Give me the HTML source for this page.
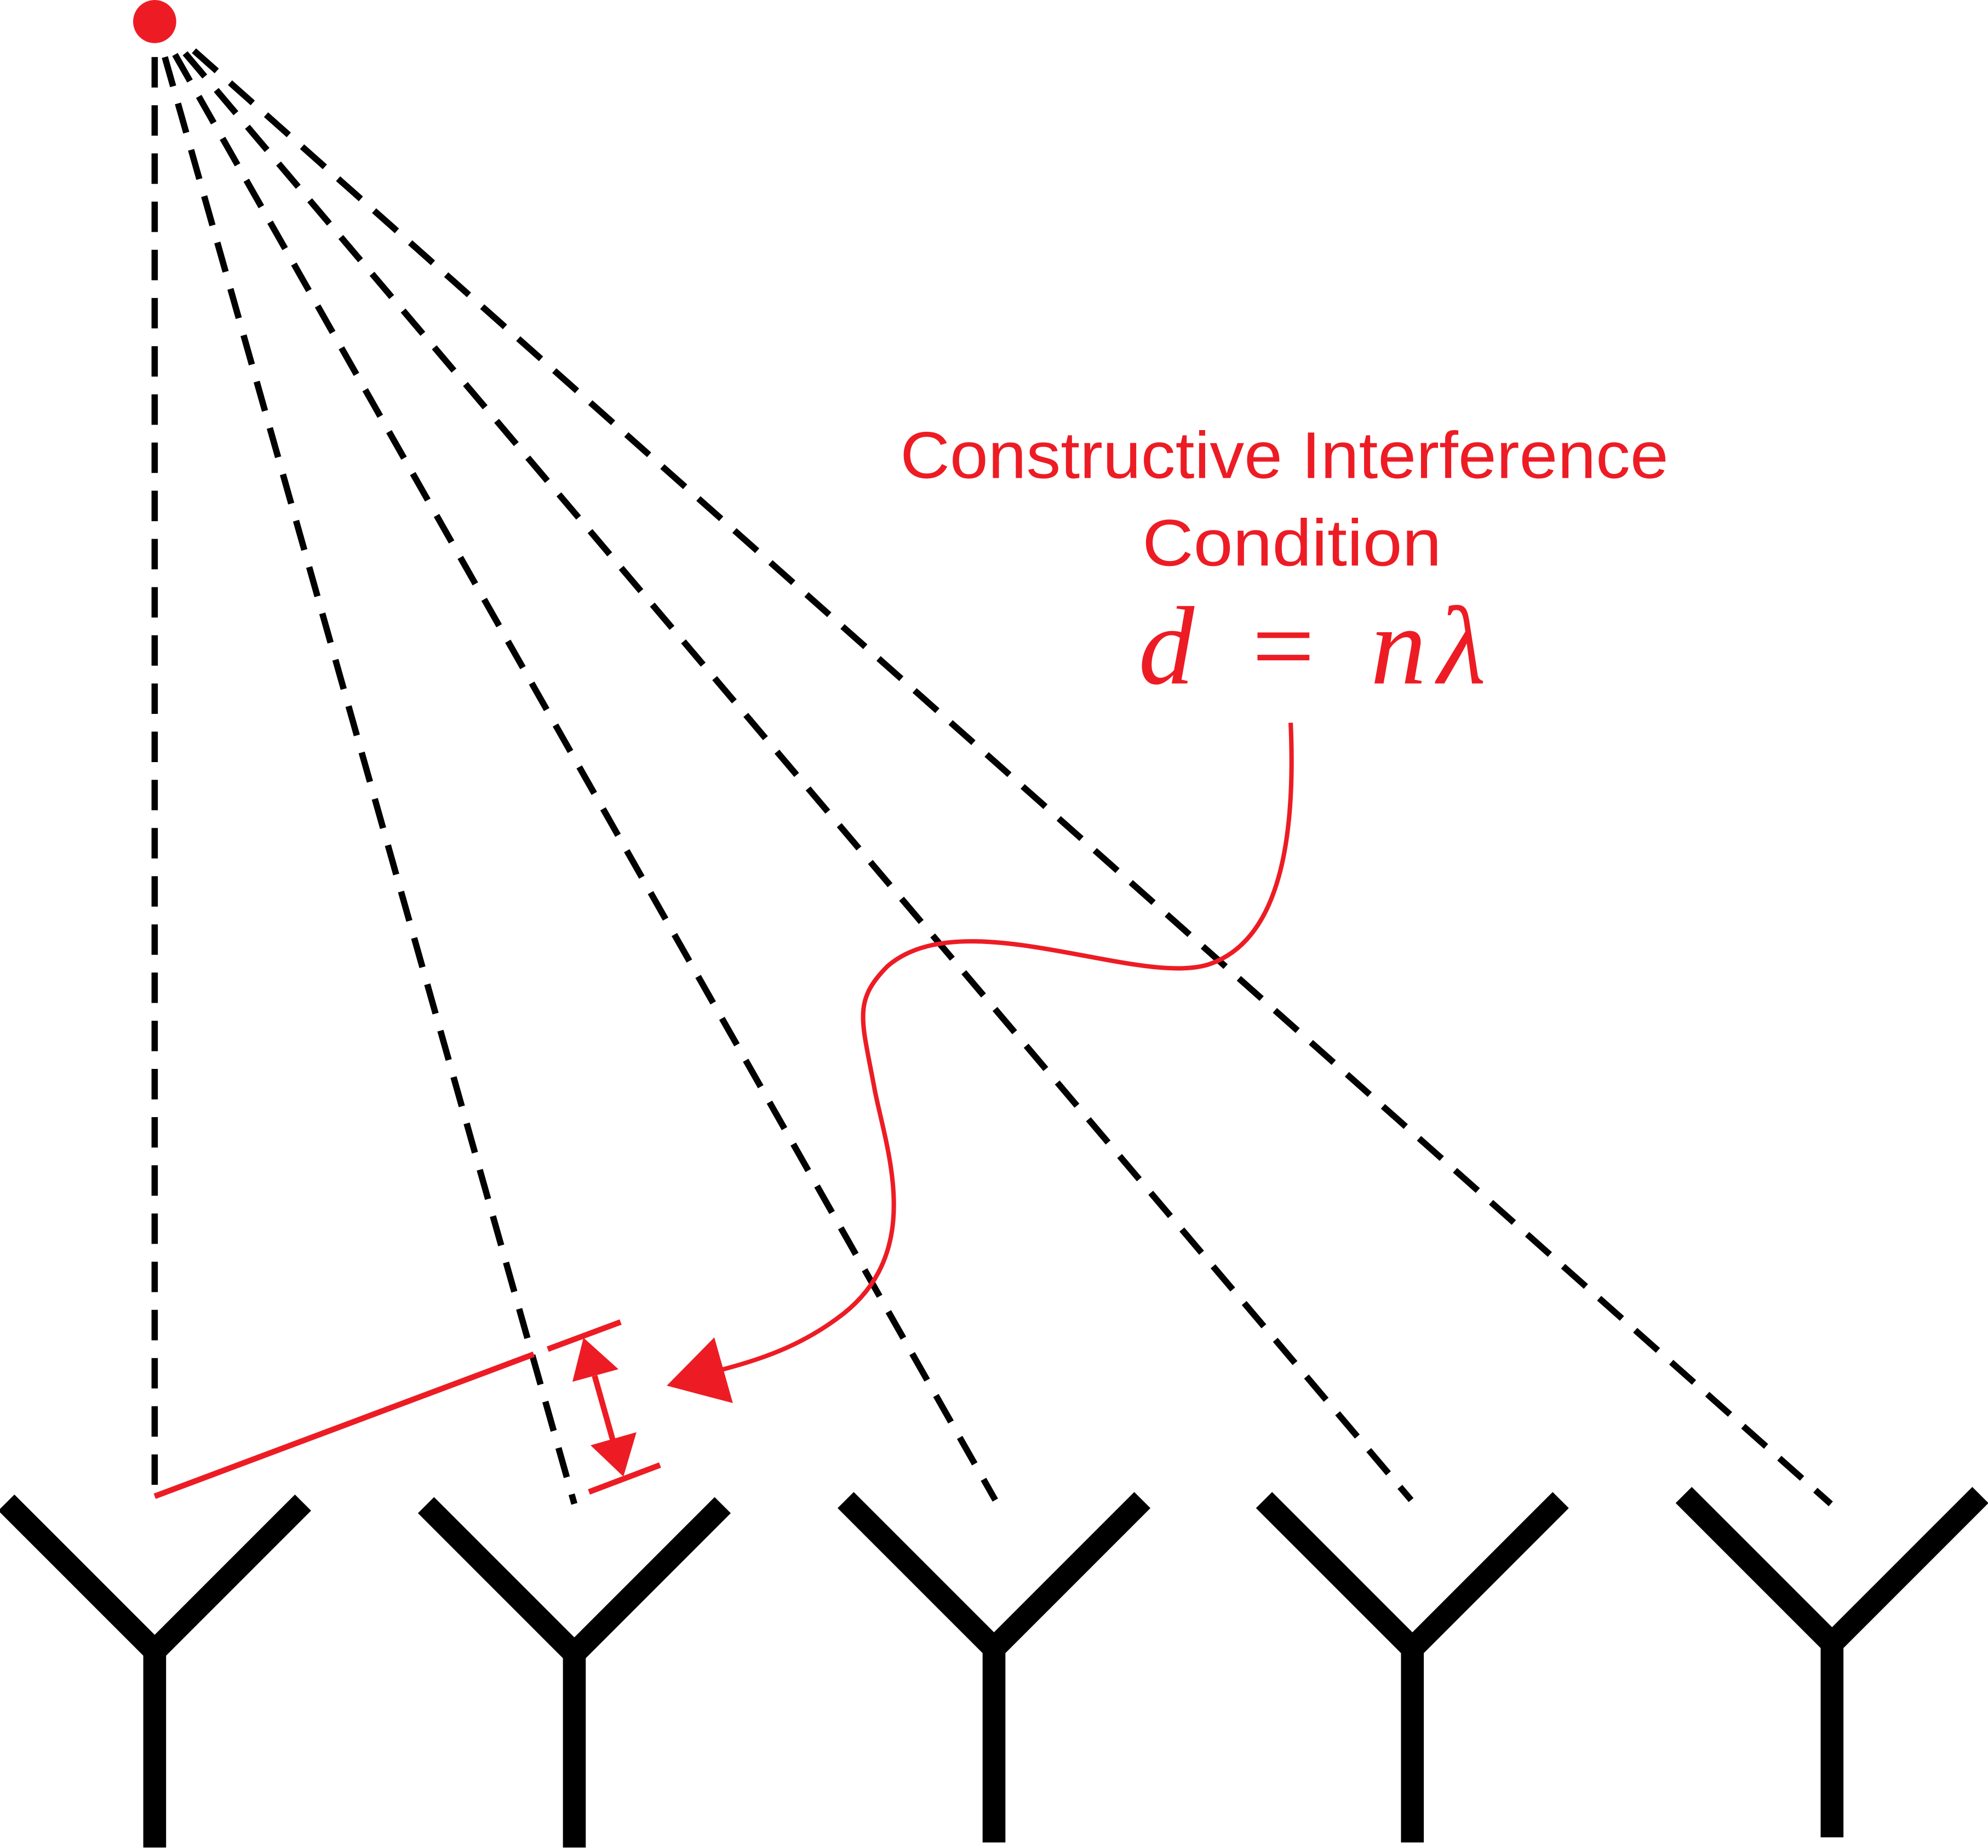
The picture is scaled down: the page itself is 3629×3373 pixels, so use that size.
<!DOCTYPE html>
<html><head><meta charset="utf-8"><style>html,body{margin:0;padding:0;background:#fff}svg{display:block}</style></head>
<body>
<svg width="3629" height="3373" viewBox="0 0 1568 1457.4" xmlns="http://www.w3.org/2000/svg">
<rect width="1568" height="1458" fill="#fff"/>
<g stroke="#000" stroke-width="5" stroke-dasharray="24 14" fill="none">
<line x1="122" y1="45" x2="122" y2="1182"/>
<line x1="130" y1="45" x2="453" y2="1186"/>
<line x1="138" y1="43" x2="785" y2="1183"/>
<line x1="146" y1="42" x2="1113" y2="1183"/>
<line x1="153" y1="40" x2="1444" y2="1186"/>
</g>
<circle cx="122" cy="17" r="17" fill="#ed1c24"/>
<g stroke="#000" stroke-width="18" fill="none">
<path d="M5 1185 L122 1302 L239 1185 M122 1300 V1457"/>
<path d="M336 1187 L453 1304 L570 1187 M453 1302 V1457"/>
<path d="M667 1183 L784 1300 L901 1183 M784 1298 V1453"/>
<path d="M997 1183 L1114 1300 L1231 1183 M1114 1298 V1453"/>
<path d="M1328 1179 L1445 1296 L1562 1179 M1445 1294 V1449"/>
</g>
<g stroke="#ed1c24" stroke-width="4.5" fill="#ed1c24">
<line x1="122" y1="1180" x2="421" y2="1068"/>
<line x1="432" y1="1064" x2="489.5" y2="1042.6"/>
<line x1="464.5" y1="1176.6" x2="520.6" y2="1155.4"/>
<line x1="469" y1="1085" x2="484" y2="1138"/>
<polygon stroke="none" points="460.2,1055 451.5,1089.7 487.8,1079.8"/>
<polygon stroke="none" points="491.7,1164.5 465.8,1139.8 502,1129.5"/>
</g>
<path d="M1018 570 C1022 660 1010 740 955 760 C900 780 760 710 700 762 C672 790 680 805 690 860 C700 910 730 990 660 1040 C630 1062 600 1072 570 1080" fill="none" stroke="#ed1c24" stroke-width="3.5"/>
<polygon points="525.9,1092.8 563.4,1054.7 578,1106.5" fill="#ed1c24"/>
<g fill="#ed1c24">
<text x="710" y="377" textLength="606" lengthAdjust="spacingAndGlyphs" font-family="Liberation Sans, sans-serif" font-size="52">Constructive Interference</text>
<text x="901" y="446" textLength="236" lengthAdjust="spacingAndGlyphs" font-family="Liberation Sans, sans-serif" font-size="52">Condition</text>
<text x="898" y="539" textLength="274" lengthAdjust="spacing" font-family="Liberation Serif, serif" font-style="italic" font-size="88">d = nλ</text>
</g>
</svg>
</body></html>
